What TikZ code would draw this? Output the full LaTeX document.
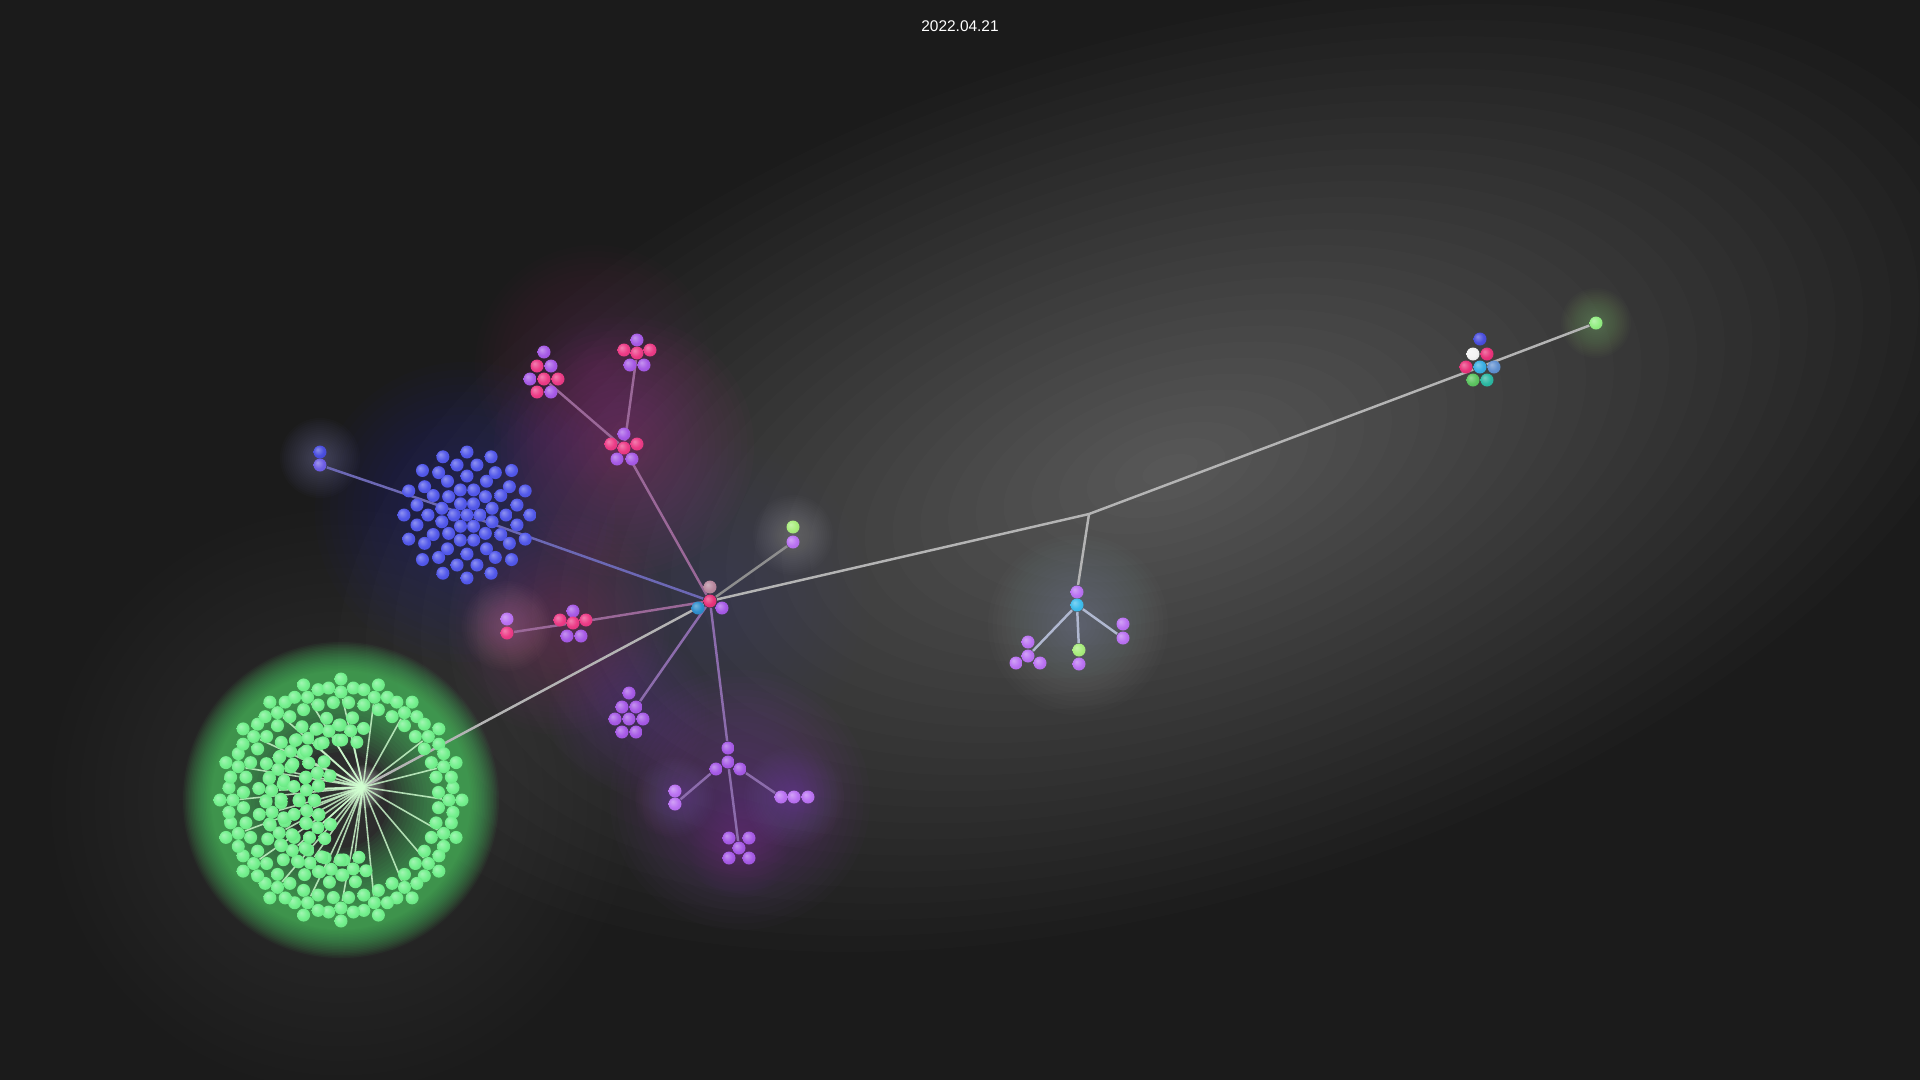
\documentclass[tikz,border=0pt]{standalone}
\usepackage{fontspec}
\setmainfont{Liberation Sans}
\usetikzlibrary{calc}

\definecolor{bgcol}{HTML}{1B1B1B}
\definecolor{pinkb}{HTML}{EC3B86}
\definecolor{violb}{HTML}{A65AE6}
\definecolor{lilacb}{HTML}{BA72F2}
\definecolor{blueb}{HTML}{5258EA}
\definecolor{indigob}{HTML}{6E5EE6}
\definecolor{greenb}{HTML}{72F08C}
\definecolor{limeb}{HTML}{A8EC7C}
\definecolor{cyanb}{HTML}{3EBCEC}
\definecolor{skyb}{HTML}{2E8ECC}
\definecolor{roseb}{HTML}{B8889E}
\definecolor{redb}{HTML}{E8337A}
\definecolor{steelb}{HTML}{6090D0}
\definecolor{tealb}{HTML}{2CB8A2}
\definecolor{leafb}{HTML}{5CC460}
\definecolor{snowb}{HTML}{F2F2F2}
\definecolor{royalb}{HTML}{4A4EDE}
\definecolor{mauvel}{HTML}{9A6898}
\definecolor{indigol}{HTML}{6C68B4}
\definecolor{violl}{HTML}{8C6CAC}
\definecolor{greyl}{HTML}{B4B4B4}
\definecolor{icel}{HTML}{B0B8D0}
\definecolor{greenglow}{HTML}{50D068}

\colorlet{ballcol}{white}
\pgfdeclareradialshading[ballcol]{orb}{\pgfpoint{-10bp}{10bp}}{color(0bp)=(ballcol!65!white); color(20bp)=(ballcol); color(42bp)=(ballcol!88!black); color(50bp)=(ballcol!75!black)}

% soft disc: centre, radius, colour, opacity of one step
\newcommand\glowdisc[4]{%
  \foreach \s in {1,...,20}
    \fill[#3, fill opacity=#4] #1 circle ({#2/20*\s});}

\pgfdeclarelayer{bg}
\pgfdeclarelayer{links}
\pgfsetlayers{bg,links,main}

\begin{document}
\begin{tikzpicture}
  [x=0.1mm, y=-0.1mm,
   ball/.style={circle, inner sep=0pt, minimum size=1.3mm, shade, shading=orb,
                /utils/exec={\colorlet{ballcol}{#1}}},
   link/.style={draw=#1, line width=0.7pt},
   spoke/.style={draw=white!82!green, line width=0.45pt, opacity=0.8}]

  \useasboundingbox (0,0) rectangle (1920,1080);

  % backdrop and glows
  \begin{pgfonlayer}{bg}
    \fill[bgcol] (0,0) rectangle (1920,1080);
    \foreach \s in {1,...,30}
      \fill[white, fill opacity=0.0104, rotate around={17:(1170,470)}]
        (1170,470) ellipse [x radius={28.67*\s}, y radius={14.33*\s}];
    \glowdisc{(560,700)}{480}{white}{0.005}
    \glowdisc{(341,800)}{290}{white}{0.0064}
    \foreach \s in {1,...,20}
      \fill[greenglow, fill opacity=0.055, even odd rule]
        (341,800) circle ({128+1.5*\s}) (341,800) circle ({118-3.5*\s});
    \glowdisc{(363,787)}{22}{white}{0.034}
    \glowdisc{(465,512)}{150}{blueb!70!black}{0.028}
    \glowdisc{(624,447)}{130}{pinkb!60!violb}{0.0177}
    \glowdisc{(595,365)}{120}{pinkb!60!violb}{0.0124}
    \glowdisc{(560,625)}{110}{pinkb!50!violb}{0.0163}
    \glowdisc{(710,600)}{160}{violb}{0.0064}
    \glowdisc{(740,800)}{130}{violb}{0.0177}
    \glowdisc{(629,712)}{80}{violb}{0.0143}
    \glowdisc{(1078,625)}{90}{icel}{0.0177}
    \glowdisc{(320,458)}{40}{indigob!60!white}{0.0177}
    \glowdisc{(507,626)}{45}{pinkb!50!white}{0.0177}
    \glowdisc{(793,535)}{40}{white}{0.011}
    \glowdisc{(1596,323)}{35}{limeb}{0.0177}
    \glowdisc{(675,797)}{40}{lilacb}{0.0143}
    \glowdisc{(794,797)}{50}{lilacb}{0.0143}
    \glowdisc{(739,848)}{50}{violb}{0.011}
  \end{pgfonlayer}

  \node[text=white, font=\fontsize{4.4}{5}\selectfont] (stamp) at (960,26) {2022.04.21};

  % hub
  \node[ball=redb] (hub) at (710,601) {};
  \node[ball=roseb] (hubT) at (710,587) {};
  \node[ball=skyb] (hubL) at (698,608) {};
  \node[ball=violb] (hubR) at (722,608) {};
  \coordinate (junc) at (1089,514);
  \coordinate (gh) at (363,787);

  % far right group
  \node[ball=royalb] (rk1) at (1480,339) {};
  \node[ball=snowb] (rk2) at (1473,354) {};
  \node[ball=redb] (rk3) at (1487,354) {};
  \node[ball=redb] (rk4) at (1466,367) {};
  \node[ball=cyanb!70!skyb] (rk5) at (1480,367) {};
  \node[ball=steelb] (rk6) at (1494,367) {};
  \node[ball=leafb] (rk7) at (1473,380) {};
  \node[ball=tealb] (rk8) at (1487,380) {};
  \node[ball=limeb!60!greenb] (tip) at (1596,323) {};

  % cyan group
  \node[ball=lilacb] (cy0) at (1077,592) {};
  \node[ball=cyanb] (cy) at (1077,605) {};
  \node[ball=lilacb] (cl1) at (1028,642) {};
  \node[ball=lilacb] (cl2) at (1028,656) {};
  \node[ball=lilacb] (cl3) at (1016,663) {};
  \node[ball=lilacb] (cl4) at (1040,663) {};
  \node[ball=limeb] (cm1) at (1079,650) {};
  \node[ball=lilacb] (cm2) at (1079,664) {};
  \node[ball=lilacb] (cr1) at (1123,624) {};
  \node[ball=lilacb] (cr2) at (1123,638) {};

  % purple groups
  \foreach \p [count=\k] in {(629,693),(622,707),(636,707),(615,719),
                             (629,719),(643,719),(622,732),(636,732)}
    \node[ball=violb] (pl\k) at \p {};
  \node[ball=violb] (pt1) at (728,748) {};
  \node[ball=violb] (pt2) at (728,762) {};
  \node[ball=violb] (pt3) at (716,769) {};
  \node[ball=violb] (pt4) at (740,769) {};
  \node[ball=lilacb] (pa1) at (675,791) {};
  \node[ball=lilacb] (pa2) at (675,804) {};
  \node[ball=lilacb] (pr1) at (781,797) {};
  \node[ball=lilacb] (pr2) at (794,797) {};
  \node[ball=lilacb] (pr3) at (808,797) {};
  \foreach \p [count=\k] in {(729,838),(749,838),(739,848),(729,858),(749,858)}
    \node[ball=violb] (pb\k) at \p {};
  \node[ball=limeb] (gp1) at (793,527) {};
  \node[ball=lilacb] (gp2) at (793,542) {};

  % pink groups
  \node[ball=violb] (pk1) at (573,611) {};
  \node[ball=pinkb] (pk2) at (560,620) {};
  \node[ball=pinkb] (pk3) at (573,623) {};
  \node[ball=pinkb] (pk4) at (586,620) {};
  \node[ball=violb] (pk5) at (567,636) {};
  \node[ball=violb] (pk6) at (581,636) {};
  \node[ball=lilacb] (pp1) at (507,619) {};
  \node[ball=pinkb] (pp2) at (507,633) {};
  \node[ball=violb] (pm1) at (624,434) {};
  \node[ball=pinkb] (pm2) at (611,444) {};
  \node[ball=pinkb] (pm3) at (624,448) {};
  \node[ball=pinkb] (pm4) at (637,444) {};
  \node[ball=violb] (pm5) at (617,459) {};
  \node[ball=violb] (pm6) at (632,459) {};
  \node[ball=violb] (ul1) at (544,352) {};
  \node[ball=pinkb] (ul2) at (537,366) {};
  \node[ball=violb] (ul3) at (551,366) {};
  \node[ball=violb] (ul4) at (530,379) {};
  \node[ball=pinkb] (ul5) at (544,379) {};
  \node[ball=pinkb] (ul6) at (558,379) {};
  \node[ball=pinkb] (ul7) at (537,392) {};
  \node[ball=violb] (ul8) at (551,392) {};
  \node[ball=violb] (ur1) at (637,340) {};
  \node[ball=pinkb] (ur2) at (624,350) {};
  \node[ball=pinkb] (ur3) at (637,353) {};
  \node[ball=pinkb] (ur4) at (650,350) {};
  \node[ball=violb] (ur5) at (630,365) {};
  \node[ball=violb] (ur6) at (644,365) {};

  % blue star
  \node[ball=royalb] (lp1) at (320,452) {};
  \node[ball=indigob] (lp2) at (320,465) {};
  \node[ball=blueb] (bc) at (467,515) {};
  \foreach \r/\n/\o in {13/6/0, 26/12/15, 39/12/0, 51/16/11.25, 63/16/0}
    \foreach \i in {1,...,\n}
      \node[ball=blueb] (b-\r-\i) at ({467+\r*cos(\o+360*\i/\n)},{515+\r*sin(\o+360*\i/\n)}) {};

  % green burst
  \foreach \a [count=\k] in {0,18,...,342} {
    \node[ball=greenb] (go\k) at ({341+108*cos(\a)},{800+108*sin(\a)}) {};
    \foreach \j in {1,...,5}
      \node[ball=greenb] (go\k-\j) at ($(go\k)+({\a+72*\j}:13)$) {};
  }
  \foreach \a [count=\k] in {80,98,...,280} {
    \node[ball=greenb] (gi\k) at ({341+70*cos(\a)},{800+70*sin(\a)}) {};
    \foreach \j in {1,...,5}
      \node[ball=greenb] (gi\k-\j) at ($(gi\k)+({\a+72*\j}:13)$) {};
  }
  \foreach \a [count=\k] in {130,163,196,229} {
    \node[ball=greenb] (gm\k) at ({341+36*cos(\a)},{800+36*sin(\a)}) {};
    \foreach \j in {1,...,5}
      \node[ball=greenb] (gm\k-\j) at ($(gm\k)+({\a+72*\j}:13)$) {};
  }

  % connectors
  \begin{pgfonlayer}{links}
    \draw[link=greyl] (hub) -- (junc) -- (rk5) -- (tip);
    \draw[link=greyl] (junc) -- (cy0);
    \draw[link=greyl] (hub) -- (gh);
    \draw[link=greyl!75!bgcol] (hub) -- (gp2);
    \draw[link=indigol] (hub) -- (bc);
    \draw[link=indigol] (bc) -- (lp2);
    \draw[link=mauvel] (hub) -- (pm3);
    \draw[link=mauvel] (pm3) -- (ul5);
    \draw[link=mauvel] (pm3) -- (ur3);
    \draw[link=mauvel] (hub) -- (pk3);
    \draw[link=mauvel] (pk3) -- (pp2);
    \draw[link=violl] (hub) -- (pl3);
    \draw[link=violl] (hub) -- (pt1);
    \draw[link=violl] (pt3) -- (pa2);
    \draw[link=violl] (pt4) -- (pr1);
    \draw[link=violl] (pt2) -- (pb3);
    \draw[link=icel] (cy) -- (cl2);
    \draw[link=icel] (cy) -- (cm1);
    \draw[link=icel] (cy) -- (cr2);
    \foreach \k in {1,...,20} \draw[spoke] (gh) -- (go\k);
    \foreach \k in {1,...,12} \draw[spoke] (gh) -- (gi\k);
    \foreach \k in {1,...,4} \draw[spoke] (gh) -- (gm\k);
  \end{pgfonlayer}
\end{tikzpicture}
\end{document}
